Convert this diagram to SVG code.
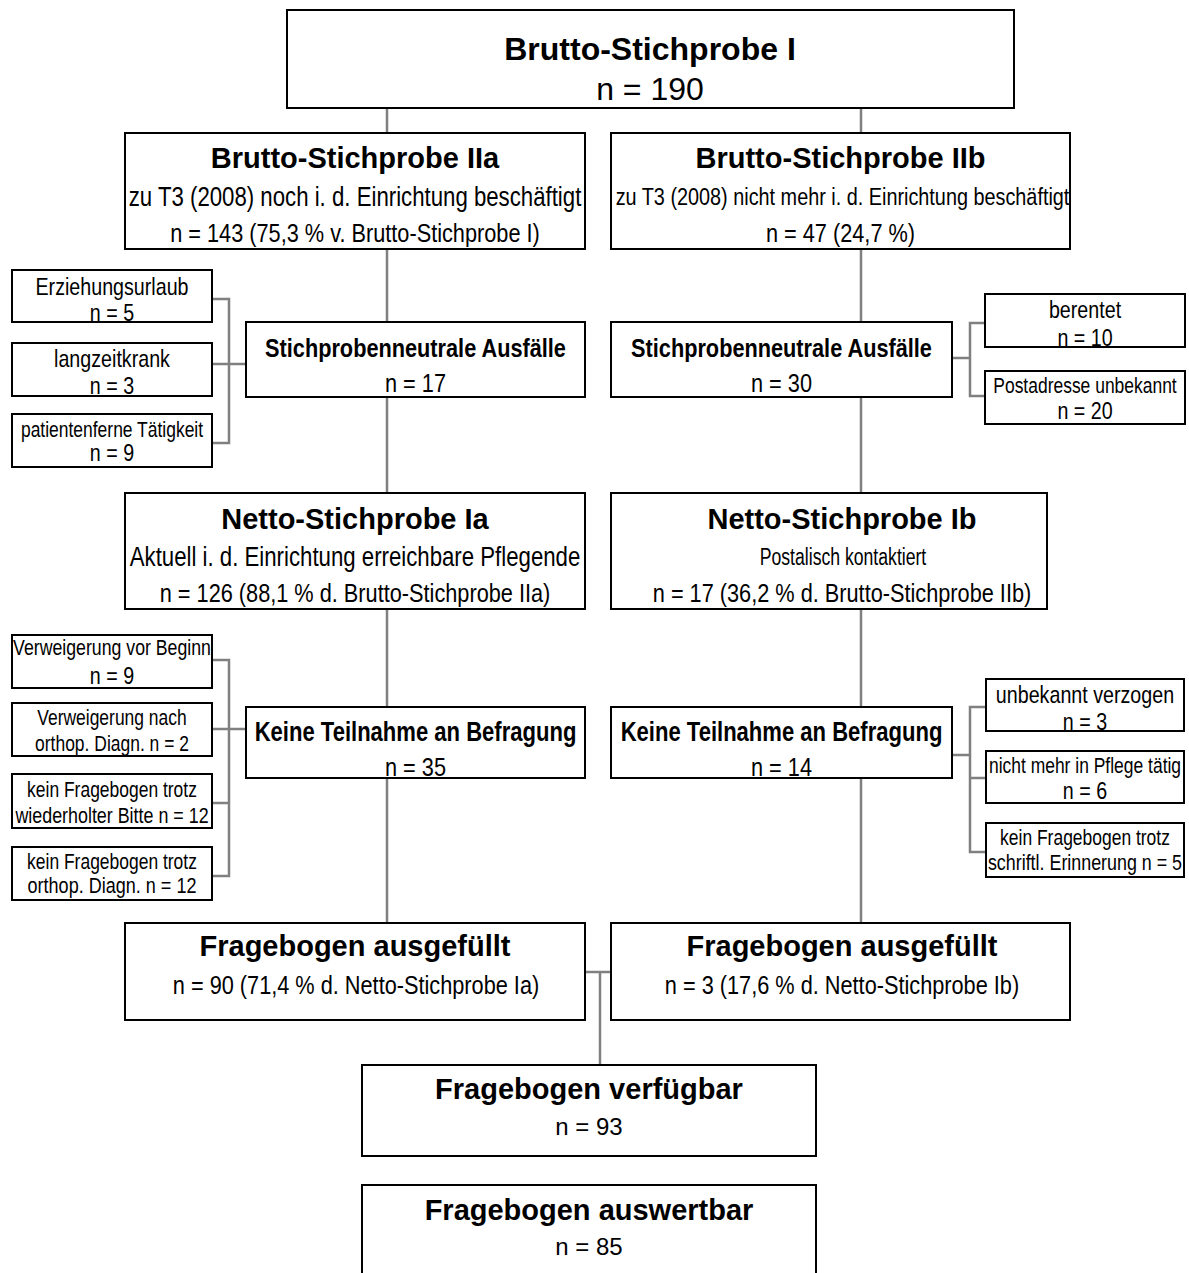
<svg xmlns="http://www.w3.org/2000/svg" width="1189" height="1273" viewBox="0 0 1189 1273">
<style>
.box{fill:#fff;stroke:#000;stroke-width:2}
.con{fill:none;stroke:#808080;stroke-width:2.5}
text{text-anchor:middle;fill:#000;font-family:"Liberation Sans",Arial,sans-serif}
.big{font-size:32px}
.bigb{font-size:32px;font-weight:bold}
.tb{font-size:29px;font-weight:bold}
.nv{font-size:24px}
.sub{font-size:26.5px}
.sub2{font-size:27.1px}
.nb{font-size:26.5px;font-weight:bold}
.nb2{font-size:26.9px;font-weight:bold}
.sm{font-size:21.3px}
.sl{font-size:24px}
</style>
<rect width="1189" height="1273" fill="#fff"/>
<g id="connectors" class="con">
<path d="M387,108V133M861,108V133"/>
<path d="M387,249V322M387,397V493M387,609V707M387,778V923"/>
<path d="M861,249V322M861,397V493M861,609V707M861,778V923"/>
<path d="M212,299H229V443H212M212,364H246"/>
<path d="M985,323H970V396H985M952,358H970"/>
<path d="M212,660H229V876H212M212,729H246M212,803H229"/>
<path d="M986,707H970V852H986M970,778H986M952,755H970"/>
<path d="M585,972H611M600,972V1065"/>
</g>
<g id="n-brutto1"><rect class="box" x="287" y="10" width="727" height="98"/>
<text class="bigb" x="650" y="60">Brutto-Stichprobe I</text>
<text class="big" x="650" y="100">n = 190</text></g>
<g id="n-brutto2a"><rect class="box" x="125" y="133" width="460" height="116"/>
<text class="tb" x="355" y="168">Brutto-Stichprobe IIa</text>
<text class="sub2" transform="translate(355 206) scale(.82 1)">zu T3 (2008) noch i. d. Einrichtung beschäftigt</text>
<text class="sub" transform="translate(355 242) scale(.82 1)">n = 143 (75,3 % v. Brutto-Stichprobe I)</text></g>
<g id="n-brutto2b"><rect class="box" x="611" y="133" width="459" height="116"/>
<text class="tb" x="840.5" y="168">Brutto-Stichprobe IIb</text>
<text style="font-size:24.2px" transform="translate(842.5 205) scale(.82 1)">zu T3 (2008) nicht mehr i. d. Einrichtung beschäftigt</text>
<text class="sub" transform="translate(840.5 242) scale(.82 1)">n = 47 (24,7 %)</text></g>
<g id="n-sn-a"><rect class="box" x="246" y="322" width="339" height="75"/>
<text class="nb" transform="translate(415.5 357) scale(.82 1)">Stichprobenneutrale Ausfälle</text>
<text class="sub" transform="translate(415.5 392) scale(.82 1)">n = 17</text></g>
<g id="n-sn-b"><rect class="box" x="611" y="322" width="341" height="75"/>
<text class="nb" transform="translate(781.5 357) scale(.82 1)">Stichprobenneutrale Ausfälle</text>
<text class="sub" transform="translate(781.5 392) scale(.82 1)">n = 30</text></g>
<g id="n-erz"><rect class="box" x="12" y="270" width="200" height="52"/>
<text class="sl" transform="translate(112 295) scale(.82 1)">Erziehungsurlaub</text><text class="sl" transform="translate(112 321) scale(.82 1)">n = 5</text></g>
<g id="n-lzk"><rect class="box" x="12" y="343" width="200" height="53"/>
<text class="sl" transform="translate(112 367) scale(.82 1)">langzeitkrank</text><text class="sl" transform="translate(112 394) scale(.82 1)">n = 3</text></g>
<g id="n-pft"><rect class="box" x="12" y="414" width="200" height="53"/>
<text class="sm" transform="translate(112 437) scale(.82 1)">patientenferne Tätigkeit</text><text class="sl" transform="translate(112 461) scale(.82 1)">n = 9</text></g>
<g id="n-ber"><rect class="box" x="985" y="294" width="200" height="53"/>
<text class="sl" transform="translate(1085 318) scale(.82 1)">berentet</text><text class="sl" transform="translate(1085 346) scale(.82 1)">n = 10</text></g>
<g id="n-pau"><rect class="box" x="985" y="371" width="200" height="53"/>
<text class="sm" transform="translate(1085 393) scale(.82 1)">Postadresse unbekannt</text><text class="sl" transform="translate(1085 419) scale(.82 1)">n = 20</text></g>
<g id="n-netto-a"><rect class="box" x="125" y="493" width="460" height="116"/>
<text class="tb" x="355" y="529">Netto-Stichprobe Ia</text>
<text class="sub2" transform="translate(355 566) scale(.82 1)">Aktuell i. d. Einrichtung erreichbare Pflegende</text>
<text class="sub" transform="translate(355 602) scale(.82 1)">n = 126 (88,1 % d. Brutto-Stichprobe IIa)</text></g>
<g id="n-netto-b"><rect class="box" x="611" y="493" width="436" height="116"/>
<text class="tb" x="842" y="529">Netto-Stichprobe Ib</text>
<text style="font-size:24.5px" transform="translate(843 565) scale(.72 1)">Postalisch kontaktiert</text>
<text class="sub" transform="translate(842 602) scale(.82 1)">n = 17 (36,2 % d. Brutto-Stichprobe IIb)</text></g>
<g id="n-kt-a"><rect class="box" x="246" y="707" width="339" height="71"/>
<text class="nb2" transform="translate(415.5 741) scale(.82 1)">Keine Teilnahme an Befragung</text>
<text class="sub" transform="translate(415.5 776) scale(.82 1)">n = 35</text></g>
<g id="n-kt-b"><rect class="box" x="611" y="707" width="341" height="71"/>
<text class="nb2" transform="translate(781.5 741) scale(.82 1)">Keine Teilnahme an Befragung</text>
<text class="sub" transform="translate(781.5 776) scale(.82 1)">n = 14</text></g>
<g id="n-vvb"><rect class="box" x="12" y="635" width="200" height="53"/>
<text style="font-size:21.6px" transform="translate(112 655) scale(.82 1)">Verweigerung vor Beginn</text><text class="sl" transform="translate(112 684) scale(.82 1)">n = 9</text></g>
<g id="n-vno"><rect class="box" x="12" y="703" width="200" height="53"/>
<text class="sm" transform="translate(112 725) scale(.82 1)">Verweigerung nach</text><text class="sm" transform="translate(112 751) scale(.82 1)">orthop. Diagn. n = 2</text></g>
<g id="n-kfw"><rect class="box" x="12" y="774" width="200" height="54"/>
<text class="sm" transform="translate(112 797) scale(.82 1)">kein Fragebogen trotz</text><text style="font-size:21.8px" transform="translate(112 823) scale(.82 1)">wiederholter Bitte n = 12</text></g>
<g id="n-kfo"><rect class="box" x="12" y="847" width="200" height="53"/>
<text class="sm" transform="translate(112 869) scale(.82 1)">kein Fragebogen trotz</text><text style="font-size:22px" transform="translate(112 893) scale(.82 1)">orthop. Diagn. n = 12</text></g>
<g id="n-uv"><rect class="box" x="986" y="679" width="198" height="52"/>
<text class="sl" transform="translate(1085 703) scale(.82 1)">unbekannt verzogen</text><text class="sl" transform="translate(1085 730) scale(.82 1)">n = 3</text></g>
<g id="n-nmp"><rect class="box" x="986" y="751" width="198" height="52"/>
<text class="sm" transform="translate(1085 773) scale(.82 1)">nicht mehr in Pflege tätig</text><text class="sl" transform="translate(1085 799) scale(.82 1)">n = 6</text></g>
<g id="n-kfs"><rect class="box" x="986" y="823" width="198" height="54"/>
<text class="sm" transform="translate(1085 845) scale(.82 1)">kein Fragebogen trotz</text><text style="font-size:21.8px" transform="translate(1085 870) scale(.82 1)">schriftl. Erinnerung n = 5</text></g>
<g id="n-fa-a"><rect class="box" x="125" y="923" width="460" height="97"/>
<text class="tb" x="355" y="956">Fragebogen ausgefüllt</text>
<text class="sub" transform="translate(356 994) scale(.82 1)">n = 90 (71,4 % d. Netto-Stichprobe Ia)</text></g>
<g id="n-fa-b"><rect class="box" x="611" y="923" width="459" height="97"/>
<text class="tb" x="842" y="956">Fragebogen ausgefüllt</text>
<text class="sub" transform="translate(842 994) scale(.82 1)">n = 3 (17,6 % d. Netto-Stichprobe Ib)</text></g>
<g id="n-fv"><rect class="box" x="362" y="1065" width="454" height="91"/>
<text class="tb" x="589" y="1099">Fragebogen verfügbar</text>
<text class="nv" x="589" y="1135">n = 93</text></g>
<g id="n-fw"><rect class="box" x="362" y="1185" width="454" height="100"/>
<text class="tb" x="589" y="1220">Fragebogen auswertbar</text>
<text class="nv" x="589" y="1255">n = 85</text></g>
</svg>
